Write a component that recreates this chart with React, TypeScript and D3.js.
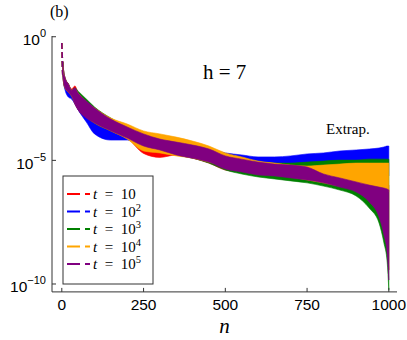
import * as d3 from 'd3';

// sample positions along n, and log10 of the upper / lower envelope of each oscillating series
const N = [0, 3, 6, 10, 20, 30, 40, 50, 75, 100, 150, 200, 250, 300, 350, 400, 450, 500, 550, 600, 650, 700, 750, 800, 850, 900, 940, 970, 985, 995, 1000];

const redHi = [-0.25, -1.02, -1.43, -1.67, -1.91, -2.11, -1.99, -2.28, -2.64, -2.92, -3.33, -3.69, -3.97, -4.14, -4.30, -4.42, -4.58, -4.82, -4.95, -5.07, -5.15, -5.23, -5.27, -5.39, -5.59, -5.71, -5.79, -5.87, -5.91, -5.96, -6.00];
const redLo = [-0.25, -1.55, -1.91, -2.07, -2.24, -2.40, -2.72, -2.96, -3.29, -3.53, -3.85, -4.10, -4.72, -4.88, -4.78, -4.91, -5.11, -5.39, -5.47, -5.55, -5.59, -5.67, -5.75, -5.87, -6.04, -6.20, -6.52, -7.01, -7.61, -8.42, -9.43];

const blueHi = [-0.25, -1.02, -1.43, -1.67, -1.91, -2.16, -2.11, -2.28, -2.64, -2.88, -3.33, -3.65, -3.97, -4.14, -4.26, -4.38, -4.54, -4.70, -4.78, -4.86, -4.86, -4.82, -4.74, -4.70, -4.62, -4.58, -4.54, -4.50, -4.46, -4.42, -4.42];
const blueLo = [-0.25, -1.55, -1.91, -2.16, -2.44, -2.52, -2.72, -2.96, -3.45, -3.93, -4.18, -4.18, -4.50, -4.66, -4.78, -4.91, -4.99, -5.23, -5.39, -5.47, -5.55, -5.59, -5.63, -5.63, -5.63, -5.63, -5.63, -5.63, -5.63, -5.63, -5.63];

const greenHi = [-0.25, -1.02, -1.43, -1.67, -1.91, -2.16, -2.07, -2.20, -2.52, -2.84, -3.29, -3.65, -3.97, -4.14, -4.26, -4.42, -4.58, -4.82, -4.95, -5.07, -5.11, -5.11, -5.07, -5.03, -4.99, -4.99, -4.95, -4.95, -4.95, -4.95, -4.95];
const greenLo = [-0.25, -1.55, -1.91, -2.07, -2.24, -2.40, -2.68, -2.92, -3.25, -3.49, -3.81, -4.10, -4.42, -4.62, -4.78, -4.91, -5.11, -5.39, -5.55, -5.67, -5.75, -5.83, -5.91, -6.04, -6.20, -6.44, -6.93, -7.53, -8.34, -9.12, -10.25];

const orangeHi = [-0.25, -1.02, -1.43, -1.67, -1.91, -2.16, -2.11, -2.28, -2.64, -2.88, -3.29, -3.53, -3.81, -3.93, -4.06, -4.22, -4.42, -4.70, -4.86, -5.03, -5.11, -5.19, -5.23, -5.19, -5.15, -5.11, -5.11, -5.11, -5.11, -5.11, -5.11];
const orangeLo = [-0.25, -1.55, -1.91, -2.07, -2.24, -2.40, -2.68, -2.92, -3.25, -3.49, -3.81, -4.14, -4.62, -4.70, -4.82, -4.91, -5.07, -5.23, -5.39, -5.51, -5.59, -5.67, -5.79, -5.91, -6.04, -6.12, -6.16, -6.20, -6.24, -6.24, -6.28];

const purpleHi = [-0.25, -1.02, -1.43, -1.67, -1.91, -2.16, -2.07, -2.28, -2.60, -2.88, -3.33, -3.65, -3.93, -4.14, -4.26, -4.38, -4.54, -4.82, -4.95, -5.07, -5.15, -5.19, -5.27, -5.55, -5.71, -5.87, -6.00, -6.08, -6.12, -6.16, -6.20];
const purpleLo = [-0.25, -1.55, -1.91, -2.07, -2.24, -2.40, -2.72, -2.96, -3.29, -3.49, -3.81, -4.10, -4.42, -4.58, -4.78, -4.91, -5.07, -5.35, -5.47, -5.59, -5.63, -5.71, -5.79, -5.91, -6.08, -6.28, -6.68, -7.29, -8.02, -8.79, -9.84];

const labels = ['10', '10', '10', '10', '10'];
const supers = ['', '2', '3', '4', '5'];
const colors = ['#ff0000', '#0000ff', '#008000', '#ffa500', '#800080'];
const his = [redHi, blueHi, greenHi, orangeHi, purpleHi];
const los = [redLo, blueLo, greenLo, orangeLo, purpleLo];

const xTicks = [0, 250, 500, 750, 1000];
const yTicks = [0, -5, -10];

const W = 407;
const H = 340;

export default function App() {
  const x = d3.scaleLinear().domain([-30, 1025]).range([52, 397]);
  const y = d3.scaleLog().domain([10 ** -10.32, 10 ** 0.03]).range([291.9, 36]);

  const series = colors.map((color, k) => ({
    color,
    label: labels[k],
    sup: supers[k],
    pts: N.map((n, i) => ({ n, hi: his[k][i], lo: los[k][i] })),
  }));

  type P = { n: number; hi: number; lo: number };
  const area = d3
    .area<P>()
    .x((d) => x(d.n))
    .y0((d) => y(10 ** d.lo))
    .y1((d) => y(10 ** d.hi))
    .curve(d3.curveMonotoneX);
  const edge = d3
    .line<P>()
    .x((d) => x(d.n))
    .y((d) => y(10 ** d.lo));

  const [x0, x1] = x.range();
  const [yb, yt] = y.range();
  const axisColor = '#333';

  const legX = 63;
  const legY = 176;
  const rowH = 17.5;

  return (
    <svg width={W} height={H} style={{ position: 'absolute', left: 0, top: 0, background: '#fff' }}>
      <rect width={W} height={H} fill="#fff" />

      {series.map((s) => (
        <path key={s.color} d={area(s.pts.slice(1)) ?? ''} fill={s.color} stroke={s.color} strokeWidth={0.6} />
      ))}
      {series.map((s) => (
        <path
          key={'d' + s.color}
          d={edge(s.pts.slice(0, 2)) ?? ''}
          fill="none"
          stroke={s.color}
          strokeWidth={1.6}
          strokeDasharray="6,3"
        />
      ))}

      {/* axes */}
      <line x1={x0} x2={x0} y1={yb} y2={yt} stroke={axisColor} />
      <line x1={x0} x2={x1} y1={yb} y2={yb} stroke={axisColor} />
      {yTicks.map((t) => (
        <g key={'y' + t}>
          <line x1={x0} x2={x0 + 4} y1={y(10 ** t)} y2={y(10 ** t)} stroke={axisColor} />
          <text x={46} y={y(10 ** t) + 8.5} textAnchor="end" fontFamily="Liberation Sans, Arial, sans-serif" fontSize={15.5} fill="#000">
            <tspan>10</tspan>
            <tspan dy={-8} fontSize={11}>
              {t === 0 ? '0' : '\u2212' + Math.abs(t)}
            </tspan>
          </text>
        </g>
      ))}
      {xTicks.map((t) => (
        <g key={'x' + t}>
          <line x1={x(t)} x2={x(t)} y1={yb} y2={yb - 4} stroke={axisColor} />
          <text x={x(t)} y={310} textAnchor="middle" fontFamily="Liberation Sans, Arial, sans-serif" fontSize={15.5} fill="#000">
            {t}
          </text>
        </g>
      ))}
      <text x={(x0 + x1) / 2} y={333} textAnchor="middle" fontFamily="Liberation Serif, serif" fontStyle="italic" fontSize={21}>
        n
      </text>

      {/* annotations */}
      <text x={50} y={17} fontFamily="Liberation Serif, serif" fontSize={16}>
        (b)
      </text>
      <text x={203} y={79} fontFamily="Liberation Serif, serif" fontSize={21}>
        h = 7
      </text>
      <text x={326} y={134} fontFamily="Liberation Serif, serif" fontSize={15}>
        Extrap.
      </text>

      {/* legend */}
      <rect x={legX} y={legY} width={90} height={108} fill="#fff" stroke={axisColor} />
      {series.map((s, i) => {
        const ry = legY + 18 + i * rowH;
        return (
          <g key={'l' + s.color}>
            <line x1={legX + 4} x2={legX + 27} y1={ry} y2={ry} stroke={s.color} strokeWidth={1.8} strokeDasharray="13,5" />
            <text x={legX + 30} y={ry + 5} fontFamily="Liberation Serif, serif" fontSize={15}>
              <tspan fontStyle="italic">t</tspan>
              <tspan>{'\u2002=\u2002' + s.label}</tspan>
              {s.sup && (
                <tspan dy={-6} fontSize={10.5}>
                  {s.sup}
                </tspan>
              )}
            </text>
          </g>
        );
      })}
    </svg>
  );
}
